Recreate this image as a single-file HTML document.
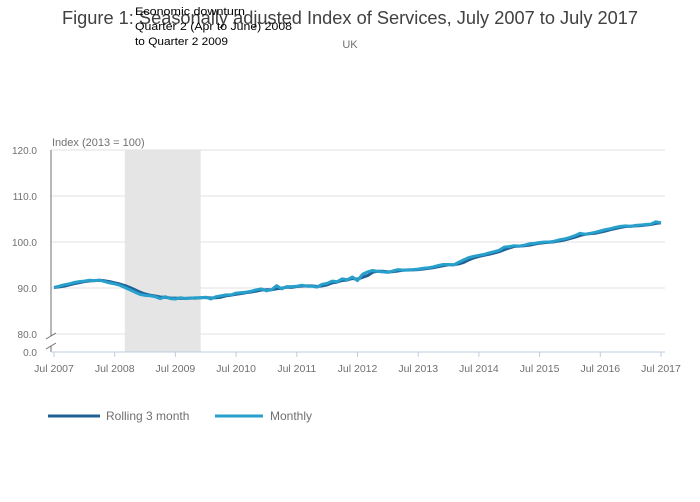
<!DOCTYPE html>
<html><head><meta charset="utf-8"><style>
html,body{margin:0;padding:0;background:#fff;}
svg{display:block;font-family:"Liberation Sans",sans-serif;}
</style></head><body>
<svg id="chart" width="700" height="502">
<text x="350" y="24" text-anchor="middle" font-size="18" fill="#414042" textLength="576" lengthAdjust="spacingAndGlyphs">Figure 1: Seasonally adjusted Index of Services, July 2007 to July 2017</text>
<text x="350" y="48" text-anchor="middle" font-size="11" fill="#707071">UK</text>
<g id="plot"></g>
<g font-size="11" fill="#000">
<text x="135" y="15" textLength="110" lengthAdjust="spacingAndGlyphs">Economic downturn</text>
<text x="135" y="30" textLength="157" lengthAdjust="spacingAndGlyphs">Quarter 2 (Apr to June) 2008</text>
<text x="135" y="45" textLength="93" lengthAdjust="spacingAndGlyphs">to Quarter 2 2009</text>
</g>
<g font-size="12" fill="#707071">
<line x1="48" y1="416" x2="100" y2="416" stroke="#206095" stroke-width="3"/>
<text x="106" y="420">Rolling 3 month</text>
<line x1="215" y1="416" x2="263" y2="416" stroke="#27a0cc" stroke-width="3"/>
<text x="270" y="420">Monthly</text>
</g>
</svg>
<script>
const yTicks = [80, 90, 100, 110, 120];
const yTickLabels = ["80.0", "90.0", "100.0", "110.0", "120.0"];
const xTickLabels = ["Jul 2007","Jul 2008","Jul 2009","Jul 2010","Jul 2011","Jul 2012","Jul 2013","Jul 2014","Jul 2015","Jul 2016","Jul 2017"];
const shadeStartMonth = 14;
const shadeEndMonth = 29;
const monthly = [
90.1,90.4,90.7,90.9,91.2,91.4,
91.5,91.7,91.6,91.7,91.4,91.1,90.9,90.6,90.1,89.6,89.1,88.6,
88.4,88.3,88.1,87.7,88.1,87.7,87.6,87.9,87.7,87.8,87.9,87.9,
88.0,87.6,88.1,88.3,88.5,88.5,88.9,89.0,89.1,89.3,89.6,89.8,
89.4,89.6,90.5,89.8,90.3,90.3,90.4,90.6,90.4,90.4,90.2,90.8,
91.0,91.5,91.4,92.0,91.8,92.4,91.6,93.0,93.5,93.8,93.6,93.5,
93.4,93.7,94.0,93.9,93.9,94.0,94.1,94.3,94.4,94.6,94.9,95.1,
95.1,95.0,95.6,96.1,96.6,96.9,97.1,97.3,97.6,97.9,98.2,98.9,
99.0,99.2,99.1,99.3,99.6,99.7,99.9,100.0,100.0,100.2,100.5,100.7,
101.0,101.4,101.9,101.7,101.9,102.1,102.4,102.7,102.9,103.2,103.4,103.5,
103.4,103.6,103.7,103.8,103.9,104.4,104.2];

const NS="http://www.w3.org/2000/svg";
const plot=document.getElementById('plot');
const X0=54, X1=661, nM=120;
function xScale(m){return X0+(X1-X0)*m/nM;}
function yScale(v){return 334-(v-80)*4.6;}
function mk(tag,attrs){const e=document.createElementNS(NS,tag);for(const k in attrs)e.setAttribute(k,attrs[k]);plot.appendChild(e);return e;}

let e=mk('rect',{x:xScale(shadeStartMonth),y:150,width:xScale(shadeEndMonth)-xScale(shadeStartMonth),height:202,fill:'#e5e5e5'});



yTicks.forEach((t,i)=>{
  const g=mk('line',{x1:51,x2:665,y1:yScale(t),y2:yScale(t),stroke:'#e2e2e2','stroke-width':1});
  
  
  const l=mk('text',{x:37,y:yScale(t)+4,'text-anchor':'end','font-size':10,fill:'#707071'});
  l.textContent=yTickLabels[i];
  
  
});
e=mk('text',{x:37,y:356,'text-anchor':'end','font-size':10,fill:'#707071'});e.textContent='0.0';


e=mk('text',{x:52,y:146,'font-size':11,fill:'#707071'});e.textContent='Index (2013 = 100)';


e=mk('path',{d:'M51 150 V336 M51 346 V352',stroke:'#707071','stroke-width':1,fill:'none'});


e=mk('path',{d:'M46 339 L56 333 M46 349 L56 343',stroke:'#707071','stroke-width':1,fill:'none'});


e=mk('line',{x1:51,x2:665,y1:352,y2:352,stroke:'#bfcde0','stroke-width':1});


xTickLabels.forEach((lab,i)=>{
  const x=xScale(i*12);
  const t=mk('line',{x1:x,x2:x,y1:352,y2:357,stroke:'#bfcde0'});
  
  
  const l=mk('text',{x:x,y:372,'text-anchor':'middle','font-size':10.5,fill:'#707071'});
  l.textContent=lab;
  
  
});
const rolling=monthly.map((v,i)=>{const s=monthly.slice(Math.max(0,i-2),i+1);return s.reduce((a,b)=>a+b,0)/s.length;});
function path(arr){return arr.map((v,i)=>(i?'L':'M')+xScale(i).toFixed(1)+' '+yScale(v).toFixed(1)).join(' ');}
e=mk('path',{d:path(rolling),stroke:'#206095','stroke-width':3,fill:'none','stroke-linejoin':'round'});


e=mk('path',{d:path(monthly),stroke:'#27a0cc','stroke-width':3,fill:'none','stroke-linejoin':'round'});


</script>
</body></html>
